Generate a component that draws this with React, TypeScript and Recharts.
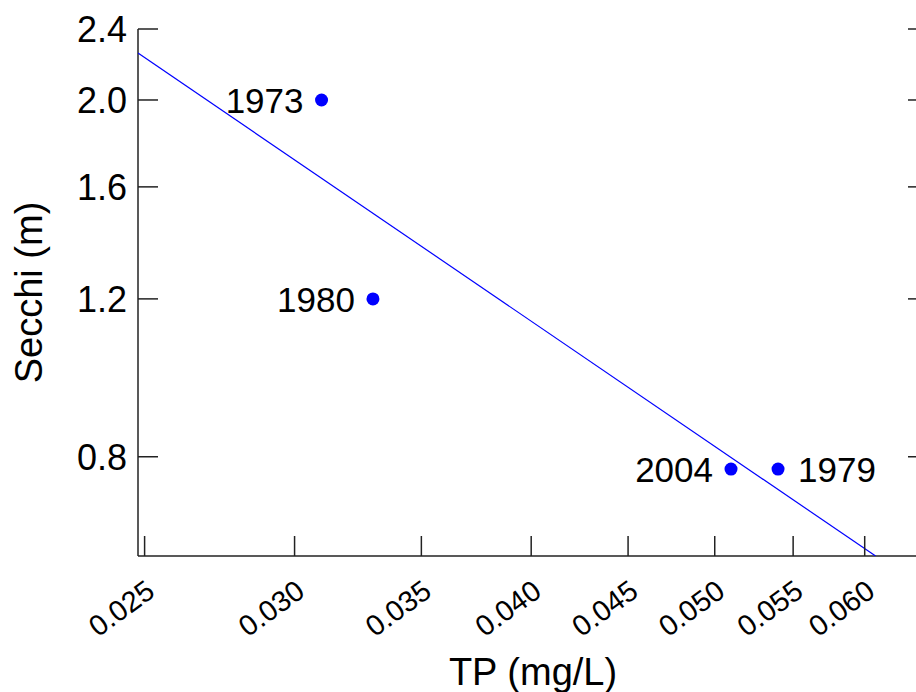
import React from 'react';
import { ScatterChart, Scatter, XAxis, YAxis } from 'recharts';

const YEARS = ['1973', '1980', '2004', '1979'];
const TP = [0.031, 0.033, 0.051, 0.054];
const SECCHI = [2.0, 1.2, 0.775, 0.775];

// fitted power-law line, end points
const FIT_TP = [0.0248, 0.0608];
const FIT_SECCHI = [2.256, 0.62];

const X_TICKS = [0.025, 0.03, 0.035, 0.04, 0.045, 0.05, 0.055, 0.06];
const Y_TICKS = [0.8, 1.2, 1.6, 2.0, 2.4];

const X_DOMAIN = [0.0248, 0.0648];
const Y_DOMAIN = [0.62, 2.4];

const RIGHT_LABELS = ['1979'];

const FONT = '"Liberation Sans", Arial, sans-serif';
const BLUE = '#0000ff';
const AXIS = '#222';

const points = YEARS.map((year, i) => ({ year, tp: TP[i], secchi: SECCHI[i] }));
const fit = FIT_TP.map((tp, i) => ({ tp, secchi: FIT_SECCHI[i] }));

const BottomTick = ({ x, y, payload }: any) => {
  const tx = x + 12;
  const ty = y + 39;
  return (
    <g>
      <line x1={x} y1={y} x2={x} y2={y - 20} stroke={AXIS} strokeWidth={1.5} />
      <text
        x={tx}
        y={ty}
        textAnchor="end"
        fontSize={29}
        fontFamily={FONT}
        fill="#000"
        transform={`rotate(-36 ${tx} ${ty})`}
      >
        {payload.value.toFixed(3)}
      </text>
    </g>
  );
};

const TopTick = ({ x, y }: any) => (
  <line x1={x} y1={y} x2={x} y2={y + 20} stroke={AXIS} strokeWidth={1.5} />
);

const LeftTick = ({ x, y, payload }: any) => (
  <g>
    <line x1={x} y1={y} x2={x + 20} y2={y} stroke={AXIS} strokeWidth={1.5} />
    <text x={x - 11} y={y + 13} textAnchor="end" fontSize={36} fontFamily={FONT} fill="#000">
      {payload.value.toFixed(1)}
    </text>
  </g>
);

const RightTick = ({ x, y }: any) => (
  <line x1={x} y1={y} x2={x - 20} y2={y} stroke={AXIS} strokeWidth={1.5} />
);

const PointShape = ({ cx, cy, payload }: any) => {
  const right = RIGHT_LABELS.includes(payload.year);
  return (
    <g>
      <circle cx={cx} cy={cy} r={6.5} fill={BLUE} />
      <text
        x={right ? cx + 20 : cx - 18}
        y={cy + 13}
        textAnchor={right ? 'start' : 'end'}
        fontSize={35}
        fontFamily={FONT}
        fill="#000"
      >
        {payload.year}
      </text>
    </g>
  );
};

export default function App() {
  return (
    <div
      style={{
        position: 'absolute',
        left: 0,
        top: 0,
        width: 916,
        height: 692,
        overflow: 'hidden',
        background: '#fff',
        fontFamily: FONT,
      }}
    >
      <ScatterChart width={940} height={692} margin={{ top: 29, right: 0, bottom: 0, left: 0 }}>
        <XAxis
          xAxisId="bottom"
          dataKey="tp"
          type="number"
          scale="log"
          domain={X_DOMAIN}
          allowDataOverflow
          ticks={X_TICKS}
          interval={0}
          height={136}
          tickSize={0}
          tickMargin={0}
          tickLine={false}
          axisLine={{ stroke: AXIS, strokeWidth: 1.5 }}
          tick={<BottomTick />}
          label={{
            content: ({ viewBox }: any) => (
              <text
                x={viewBox.x + viewBox.width / 2}
                y={viewBox.y + 129}
                textAnchor="middle"
                fontSize={38}
                fontFamily={FONT}
                fill="#000"
              >
                TP (mg/L)
              </text>
            ),
          }}
        />
        <XAxis
          xAxisId="top"
          orientation="top"
          dataKey="tp"
          type="number"
          scale="log"
          domain={X_DOMAIN}
          allowDataOverflow
          ticks={X_TICKS}
          interval={0}
          height={0}
          tickSize={0}
          tickMargin={0}
          tickLine={false}
          axisLine={{ stroke: AXIS, strokeWidth: 1.5 }}
          tick={<TopTick />}
        />
        <YAxis
          yAxisId="left"
          dataKey="secchi"
          type="number"
          scale="log"
          domain={Y_DOMAIN}
          allowDataOverflow
          ticks={Y_TICKS}
          interval={0}
          width={138}
          tickSize={0}
          tickMargin={0}
          tickLine={false}
          axisLine={{ stroke: AXIS, strokeWidth: 1.5 }}
          tick={<LeftTick />}
          label={{
            content: ({ viewBox }: any) => {
              const cx = 42;
              const cy = viewBox.y + viewBox.height / 2;
              return (
                <text
                  x={cx}
                  y={cy}
                  textAnchor="middle"
                  fontSize={38}
                  fontFamily={FONT}
                  fill="#000"
                  transform={`rotate(-90 ${cx} ${cy})`}
                >
                  Secchi (m)
                </text>
              );
            },
          }}
        />
        <YAxis
          yAxisId="right"
          orientation="right"
          dataKey="secchi"
          type="number"
          scale="log"
          domain={Y_DOMAIN}
          allowDataOverflow
          ticks={Y_TICKS}
          interval={0}
          width={12}
          tickSize={0}
          tickMargin={0}
          tickLine={false}
          axisLine={{ stroke: AXIS, strokeWidth: 1.5 }}
          tick={<RightTick />}
        />
        <Scatter
          xAxisId="bottom"
          yAxisId="left"
          data={fit}
          line={{ stroke: BLUE, strokeWidth: 1.2 }}
          shape={() => null}
          isAnimationActive={false}
        />
        <Scatter
          xAxisId="bottom"
          yAxisId="left"
          data={points}
          shape={<PointShape />}
          isAnimationActive={false}
        />
      </ScatterChart>
    </div>
  );
}
